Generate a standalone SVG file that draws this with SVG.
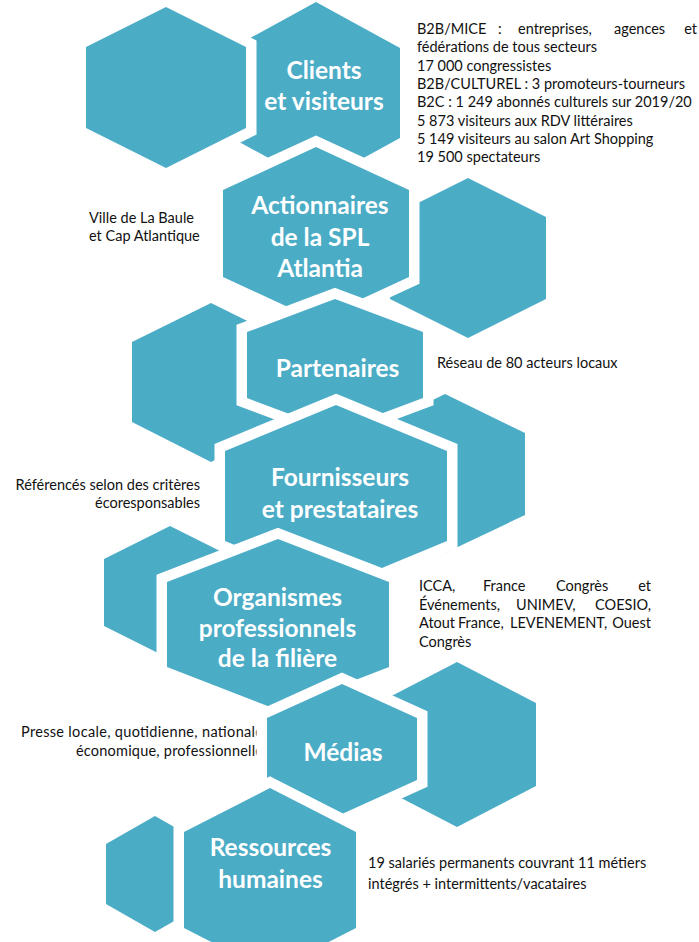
<svg xmlns="http://www.w3.org/2000/svg" width="699" height="942" viewBox="0 0 699 942">
<style>
.hex{fill:#4BACC6;stroke:#FFFFFF;stroke-width:21;stroke-linejoin:miter;paint-order:stroke}
.lbl{font-family:Lato,"Liberation Sans",sans-serif;font-weight:bold;font-size:24.5px;fill:#FFFFFF;text-anchor:middle}
.desc{font-family:Lato,"Liberation Sans",sans-serif;font-size:14.5px;fill:#111111}
.end{text-anchor:end}
</style>
<rect width="699" height="942" fill="#FFFFFF"/>
<g id="connectors"/>
<g id="node-clients">
<polygon class="hex" points="316,2 400,48 400,138 316,184 232,138 232,48"/>
<text class="lbl" x="324" y="79">Clients</text>
<text class="lbl" x="324" y="110">et visiteurs</text>
<text class="desc" y="34"><tspan x="417">B2B/MICE</tspan><tspan x="498">:</tspan><tspan x="518">entreprises,</tspan><tspan x="614">agences</tspan></text>
<text class="desc end" x="697" y="34">et</text>
<text class="desc" x="417" y="52.4">fédérations de tous secteurs</text>
<text class="desc" x="417" y="70.7">17 000 congressistes</text>
<text class="desc" x="417" y="89">B2B/CULTUREL : 3 promoteurs-tourneurs</text>
<text class="desc" x="417" y="107.4">B2C : 1 249 abonnés culturels sur 2019/20</text>
<text class="desc" x="417" y="125.7">5 873 visiteurs aux RDV littéraires</text>
<text class="desc" x="417" y="144">5 149 visiteurs au salon Art Shopping</text>
<text class="desc" x="417" y="162.4">19 500 spectateurs</text>
</g>
<g id="deco-1"><polygon class="hex" points="166,7 246,47 246,128 166,168 86,128 86,47"/></g>
<g id="deco-2"><polygon class="hex" points="468,178 546,217 546,299 468,338 390,299 390,217"/></g>
<g id="node-actionnaires">
<polygon class="hex" points="316,147 409,190 409,277 316,320 223,277 223,190"/>
<text class="lbl" x="320" y="214">Actionnaires</text>
<text class="lbl" x="320" y="246">de la SPL</text>
<text class="lbl" x="320" y="277">Atlantia</text>
<text class="desc" x="89" y="222.7">Ville de La Baule</text>
<text class="desc" x="89" y="240.7">et Cap Atlantique</text>
</g>
<g id="deco-3"><polygon class="hex" points="211,303 290,342 290,422 211,462 132,422 132,342"/></g>
<g id="deco-4"><polygon class="hex" points="445,394 525,433 525,515 445,553 365,515 365,433"/></g>
<g id="node-partenaires">
<polygon class="hex" points="335,299 423,332 423,398 335,431 247,398 247,332"/>
<text class="lbl" x="337.5" y="377">Partenaires</text>
<text class="desc" x="437" y="368.3">Réseau de 80 acteurs locaux</text>
</g>
<g id="node-fournisseurs">
<polygon class="hex" points="336,405 447,451 447,541 336,587 225,541 225,451"/>
<text class="lbl" x="340" y="486">Fournisseurs</text>
<text class="lbl" x="340" y="518">et prestataires</text>
<text class="desc end" x="200" y="489.5">Référencés selon des critères</text>
<text class="desc end" x="200" y="508">écoresponsables</text>
</g>
<g id="deco-5"><polygon class="hex" points="170,526 236,559 236,626 170,659 104,626 104,559"/></g>
<g id="node-organismes">
<polygon class="hex" points="278,539 389,582 389,667 278,710 167,667 167,582"/>
<text class="lbl" x="277.5" y="606">Organismes</text>
<text class="lbl" x="277.5" y="637">professionnels</text>
<text class="lbl" x="277.5" y="667">de la filière</text>
<text class="desc" y="590.7"><tspan x="419">ICCA,</tspan><tspan x="483">France</tspan><tspan x="556">Congrès</tspan></text>
<text class="desc end" x="651" y="590.7">et</text>
<text class="desc" y="609.5"><tspan x="419">Événements,</tspan><tspan x="516">UNIMEV,</tspan></text>
<text class="desc end" x="651" y="609.5">COESIO,</text>
<text class="desc" y="628.3"><tspan x="419">Atout</tspan><tspan x="458">France,</tspan><tspan x="510">LEVENEMENT,</tspan></text>
<text class="desc end" x="651" y="628.3">Ouest</text>
<text class="desc" x="419" y="647.2">Congrès</text>
</g>
<g id="deco-6"><polygon class="hex" points="457,662 536,703 536,786 457,827 378,786 378,703"/></g>
<g id="node-medias">
<text class="desc" x="21" y="737" textLength="242" lengthAdjust="spacing">Presse locale, quotidienne, nationale</text>
<text class="desc" x="76" y="756" textLength="187" lengthAdjust="spacing">économique, professionnelle</text>
<polygon class="hex" points="342,684 417,718 417,780 342,814 267,780 267,718"/>
<text class="lbl" x="343" y="761">Médias</text>
</g>
<g id="deco-7"><polygon class="hex" points="155,816 204,844 204,904 155,932 106,904 106,844"/></g>
<g id="node-rh">
<polygon class="hex" points="270,788 356,832 356,928 270,972 184,928 184,832"/>
<text class="lbl" x="270.5" y="856">Ressources</text>
<text class="lbl" x="270.5" y="888">humaines</text>
<text class="desc" x="368" y="868">19 salariés permanents couvrant 11 métiers</text>
<text class="desc" x="368" y="889">intégrés + intermittents/vacataires</text>
</g>
</svg>
